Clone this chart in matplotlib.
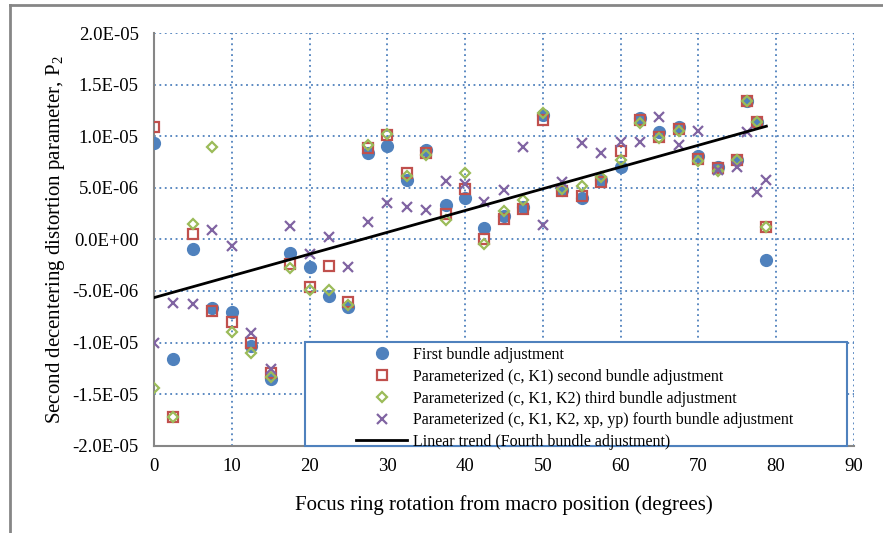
import numpy as np
import matplotlib
matplotlib.use("Agg")
import matplotlib.pyplot as plt
from matplotlib.ticker import FuncFormatter, MultipleLocator
from matplotlib.lines import Line2D
from matplotlib.patches import Rectangle

plt.rcParams['font.family'] = ['Liberation Serif', 'DejaVu Serif']
plt.rcParams['mathtext.fontset'] = 'custom'
plt.rcParams['mathtext.rm'] = 'Liberation Serif'
plt.rcParams['mathtext.it'] = 'Liberation Serif:italic'

rotation = [0, 2.5, 5, 7.5, 10, 12.5, 15, 17.5, 20, 22.5, 25, 27.5, 30, 32.5, 35,
            37.5, 40, 42.5, 45, 47.5, 50, 52.5, 55, 57.5, 60, 62.5, 65, 67.5, 70,
            72.5, 75, 76.25, 77.5, 78.75]

first_ba = [9.31e-6, -1.164e-5, -0.97e-6, -6.64e-6, -7.03e-6, -1.03e-5, -1.354e-5,
            -1.29e-6, -2.68e-6, -5.45e-6, -6.55e-6, 8.35e-6, 9.09e-6, 5.77e-6, 8.70e-6,
            3.36e-6, 4.03e-6, 1.09e-6, 2.30e-6, 3.12e-6, 1.209e-5, 4.74e-6, 4.03e-6,
            5.71e-6, 6.99e-6, 1.177e-5, 1.038e-5, 1.086e-5, 8.06e-6, 7.06e-6, 7.74e-6,
            1.344e-5, 1.134e-5, -1.96e-6]

second_ba = [1.086e-5, -1.718e-5, 0.55e-6, -6.96e-6, -8.0e-6, -1.0e-5, -1.30e-5,
             -2.42e-6, -4.61e-6, -2.58e-6, -6.06e-6, 8.83e-6, 1.015e-5, 6.41e-6, 8.38e-6,
             2.49e-6, 4.90e-6, 0.07e-6, 1.97e-6, 2.97e-6, 1.158e-5, 4.67e-6, 4.16e-6,
             5.54e-6, 8.61e-6, 1.161e-5, 9.89e-6, 1.071e-5, 7.80e-6, 6.93e-6, 7.74e-6,
             1.344e-5, 1.134e-5, 1.19e-6]

third_ba = [-1.438e-5, -1.718e-5, 1.52e-6, 8.93e-6, -8.96e-6, -1.105e-5, -1.33e-5,
            -2.74e-6, -4.93e-6, -4.87e-6, -6.38e-6, 9.16e-6, 1.022e-5, 6.19e-6, 8.19e-6,
            1.84e-6, 6.41e-6, -0.42e-6, 2.71e-6, 3.77e-6, 1.221e-5, 4.90e-6, 5.16e-6,
            6.09e-6, 7.71e-6, 1.125e-5, 9.83e-6, 1.048e-5, 7.57e-6, 6.67e-6, 7.74e-6,
            1.344e-5, 1.134e-5, 1.19e-6]

fourth_ba = [-1.003e-5, -6.12e-6, -6.29e-6, 0.94e-6, -0.65e-6, -9.12e-6, -1.26e-5,
             1.29e-6, -1.38e-6, 0.20e-6, -2.68e-6, 1.67e-6, 3.51e-6, 3.12e-6, 2.80e-6,
             5.61e-6, 5.39e-6, 3.61e-6, 4.74e-6, 8.93e-6, 1.35e-6, 5.54e-6, 9.35e-6,
             8.38e-6, 9.41e-6, 9.41e-6, 1.183e-5, 9.16e-6, 1.054e-5, 6.77e-6, 6.99e-6,
             1.038e-5, 4.57e-6, 5.71e-6]

labels = ["First bundle adjustment",
          "Parameterized (c, K1) second bundle adjustment",
          "Parameterized (c, K1, K2) third bundle adjustment",
          "Parameterized (c, K1, K2, xp, yp) fourth bundle adjustment",
          "Linear trend (Fourth bundle adjustment)"]

BLUE = '#4F81BD'
RED = '#C0504D'
GREEN = '#9BBB59'
PURPLE = '#8064A2'

fig = plt.figure(figsize=(8.83, 5.33), dpi=100)
ax = fig.add_axes([0.1744, 0.1638, 0.7926, 0.7742])

x = np.array(rotation)
ax.plot(x, first_ba, 'o', ms=8.5, color=BLUE, mec=BLUE, zorder=3)
ax.plot(x, second_ba, 's', ms=7.5, mfc='none', mec=RED, mew=1.6, zorder=4)
ax.plot(x, third_ba, 'D', ms=5.5, mfc='none', mec=GREEN, mew=1.6, zorder=5)
ax.plot(x, fourth_ba, 'x', ms=7.5, color=PURPLE, mew=1.6, zorder=6)

coef = np.polyfit(x, np.array(fourth_ba), 1)
xl = np.array([x.min(), x.max()])
ax.plot(xl, np.polyval(coef, xl), '-', color='black', lw=2, zorder=7)

ax.set_xlim(0, 90)
ax.set_ylim(-2e-5, 2e-5)
ax.xaxis.set_major_locator(MultipleLocator(10))
ax.yaxis.set_major_locator(MultipleLocator(5e-6))
ax.yaxis.set_major_formatter(FuncFormatter(lambda v, p: f"{v:.1E}".replace("-0.0", "0.0")))
ax.grid(True, color=BLUE, linestyle=(0, (1, 2)), linewidth=1.3)
ax.set_axisbelow(True)
for s in ['top', 'right']:
    ax.spines[s].set_visible(False)
for s in ['left', 'bottom']:
    ax.spines[s].set_color('#868686')
    ax.spines[s].set_linewidth(1.5)
ax.tick_params(length=0, labelsize=13.5)
ax.tick_params(axis='y', pad=11)
ax.tick_params(axis='x', pad=9)

ax.set_xlabel("Focus ring rotation from macro position (degrees)", fontsize=15, labelpad=14)
ax.set_ylabel(r"Second decentering distortion parameter, P$_{\mathrm{2}}$", fontsize=15)
ax.yaxis.set_label_coords(-0.124, 0.5)

# legend frame
ax.add_patch(Rectangle((0.2157, 0.0), 0.99 - 0.2157, 0.251, transform=ax.transAxes,
                       facecolor='white', edgecolor=BLUE, lw=1.5, zorder=9, clip_on=False))

handles = [
    Line2D([], [], ls='none', marker='o', ms=8.5, color=BLUE),
    Line2D([], [], ls='none', marker='s', ms=7, mfc='none', mec=RED, mew=1.6),
    Line2D([], [], ls='none', marker='D', ms=5, mfc='none', mec=GREEN, mew=1.6),
    Line2D([], [], ls='none', marker='x', ms=7, color=PURPLE, mew=1.6),
    Line2D([], [], color='black', lw=2),
]
leg = ax.legend(handles, labels, loc='upper left', bbox_to_anchor=(0.2886, 0.239),
                fontsize=11.5, frameon=False,
                handlelength=3.2, handletextpad=0.4, labelspacing=0.36, borderpad=0,
                borderaxespad=0)
leg.set_zorder(10)

fig.add_artist(Line2D([10/883, 10/883], [0, 1 - 5/533], transform=fig.transFigure,
                      color='#868686', lw=2))
fig.add_artist(Line2D([10/883, 1], [1 - 5/533, 1 - 5/533], transform=fig.transFigure,
                      color='#868686', lw=2))

fig.savefig("out.png", dpi=100)
